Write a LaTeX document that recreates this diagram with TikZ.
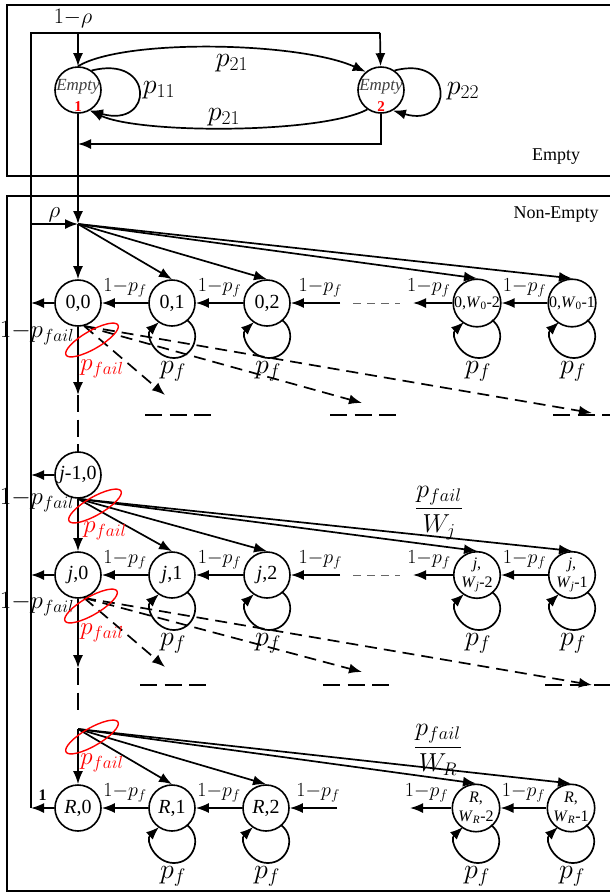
\RequirePackage{fix-cm}
\documentclass[tikz,border=0pt]{standalone}
\usepackage{amsmath}
\usepackage[no-math]{fontspec}
\setmainfont{Liberation Serif}
\usetikzlibrary{arrows.meta,shapes.geometric,calc}
\newcommand{\fsz}[1]{\fontsize{#1}{#1}\selectfont}
\newcommand{\sloop}[1]{\draw[arr] ($(#1)+(15,17)$) .. controls ($(#1)+(31,29)$) and ($(#1)+(22,55)$) .. ($(#1)+(2,55)$) .. controls ($(#1)+(-17,55)$) and ($(#1)+(-27,32)$) .. ($(#1)+(-13,19)$);}
\newcommand{\pflab}[1]{\node[lbig] (#1pf) at ($(#1)+(1,68)$) {$p_f$};}
\begin{document}
\begin{tikzpicture}[x=1pt,y=-1pt,
  st/.style={circle,draw,line width=1.6pt,minimum size=46pt,inner sep=0pt,font=\fsz{20}},
  sts/.style={st,font=\fsz{16}},
  stt/.style={st,align=center,font=\fontsize{16}{19}\selectfont},
  arrtip/.style={-{Latex[length=13pt,width=10pt]}},
  arr/.style={line width=1.7pt,arrtip},
  ln/.style={line width=1.7pt},
  dsh/.style={line width=1.7pt,dash pattern=on 12pt off 7pt,arrtip},
  ldsh/.style={line width=2pt,dash pattern=on 17pt off 7.5pt},
  gdsh/.style={line width=0.9pt,black!60,dash pattern=on 8pt off 6pt},
  lpf/.style={midway,yshift=15pt,font=\fsz{20}},
  lbig/.style={font=\fsz{28}},
  lpfail/.style={font=\fsz{25}},
  rell/.style={draw=red,line width=1.4pt,ellipse,minimum width=60pt,minimum height=18pt,inner sep=0pt,rotate=30},
  rlbl/.style={text=red,font=\fsz{25}},
  frac/.style={font=\fsz{26}},
  boxlbl/.style={font=\fsz{18}},
]
\useasboundingbox (0,0) rectangle (610,895);
% boxes
\draw[line width=1.4pt] (7,5) rectangle (613,176);
\draw[line width=1.4pt] (7,196) rectangle (613,891);
\node[boxlbl] (lab1) at (556,157) {Empty};
\node[boxlbl] (lab2) at (556,215) {Non-Empty};

% ---------- Empty states
\node[st] (e1) at (78,90) {};
\node[st] (e2) at (381,90) {};
\node[font=\itshape\fsz{17},text=black!75] (e1t) at (78,87) {Empty};
\node[font=\bfseries\fsz{15},text=red] (e1n) at (78,107) {1};
\node[font=\itshape\fsz{17},text=black!75] (e2t) at (381,87) {Empty};
\node[font=\bfseries\fsz{15},text=red] (e2n) at (381,107) {2};

\coordinate (TL) at (31,33);
\coordinate (TR) at (380,33);
\coordinate (T1) at (78,33);
\coordinate (BL) at (31,808);
\coordinate (V1) at (78,144);
\coordinate (J0) at (78,224);
\coordinate (L0) at (31,224);

\draw[ln] (BL) -- (TL) -- (TR);
\draw[arr] (TR) -- (e2);
\draw[arr] (T1) -- (e1);
\node[font=\fsz{22}] (rho1) at (73,19) {$1{-}\rho$};

\draw[arr] (e1.north) .. controls (125,38) and (300,42) .. (e2.130);
\node[lbig] (p21a) at (232,63) {$p_{21}$};
\draw[arr] (e2.-125) .. controls (320,134) and (140,134) .. (e1.-60);
\node[lbig] (p21b) at (224,117) {$p_{21}$};
\draw[arr] (e1.55) .. controls +(63,-16) and +(64.5,18) .. (e1.-60);
\node[lbig] (p11) at (159,90) {$p_{11}$};
\draw[arr] (e2.55) .. controls +(60,-16) and +(61,18) .. (e2.-60);
\node[lbig] (p22) at (463,91) {$p_{22}$};

\draw[arr] (e2.south) |- (V1);
\draw[arr] (e1) -- (J0);
\draw[arr] (L0) -- (J0) node[midway,yshift=9pt,font=\fsz{23}] {$\rho$};

% ---------- Row 0
\node[st] (a0) at (78,303) {0,0};
\node[st] (a1) at (172,303) {0,1};
\node[st] (a2) at (267,303) {0,2};
\node[sts] (a3) at (477,303) {0,\textit{W}\textsubscript{0}-2};
\node[sts] (a4) at (572,303) {0,\textit{W}\textsubscript{0}-1};
\coordinate (a2r) at (340,303);
\coordinate (g0a) at (353,303);
\coordinate (g0b) at (400,303);
\coordinate (a3l) at (413,303);
\coordinate (a0l) at (31,303);
\coordinate (a0d) at (78,395);
\coordinate (a0e) at (78,452);
\coordinate (a0x1) at (165,395);
\coordinate (a0x2) at (362,403);
\coordinate (a0x3) at (592,413);
\coordinate (h0a) at (145,415);
\coordinate (h0b) at (211,415);
\coordinate (h0c) at (330,415);
\coordinate (h0d) at (397,415);
\coordinate (h0e) at (553,415);
\coordinate (h0f) at (612,415);

\draw[arr] (J0) -- (a0);
\foreach \n in {a1,a2,a3,a4} \draw[arr] (J0) -- (\n.north);
\draw[arr] (a1) -- (a0) node[lpf] {$1{-}p_f$};
\draw[arr] (a2) -- (a1) node[lpf] {$1{-}p_f$};
\draw[arr] (a2r) -- (a2) node[lpf,pos=0.4] {$1{-}p_f$};
\draw[gdsh] (g0a) -- (g0b);
\draw[arr] (a3) -- (a3l) node[lpf,pos=0.6] {$1{-}p_f$};
\draw[arr] (a4) -- (a3) node[lpf] {$1{-}p_f$};
\draw[arr] (a0) -- (a0l);
\node[lpfail] (t0) at (37,333) {$1{-}p_{fail}$};
\foreach \n in {a1,a2,a3,a4} {\sloop{\n}\pflab{\n}}
\draw[arr] (a0) -- (a0d);
\draw[ldsh] (a0d) -- (a0e);
\draw[dsh] (a0.-75) -- (a0x1);
\draw[dsh] (a0.-75) -- (a0x2);
\draw[dsh] (a0.-75) -- (a0x3);
\draw[ldsh] (h0a) -- (h0b);
\draw[ldsh] (h0c) -- (h0d);
\draw[ldsh] (h0e) -- (h0f);
\node[rell] (r0) at (92,340) {};
\node[rlbl] (q0) at (102,369) {$p_{fail}$};

% ---------- Row j-1
\node[st] (b0) at (78,475) {\textit{j}-1,0};
\coordinate (b0l) at (31,475);
\draw[arr] (b0) -- (b0l);
\node[lpfail] (t1) at (37,500) {$1{-}p_{fail}$};

% ---------- Row j
\node[st] (c0) at (78,575) {\textit{j},0};
\node[st] (c1) at (172,575) {\textit{j},1};
\node[st] (c2) at (267,575) {\textit{j},2};
\node[stt] (c3) at (477,575) {\textit{j},\\\textit{W}\textsubscript{\textit{j}}-2};
\node[stt] (c4) at (572,575) {\textit{j},\\\textit{W}\textsubscript{\textit{j}}-1};
\draw[arr] (b0.south) -- (c0);
\foreach \n in {c1,c2,c3,c4} \draw[arr] (b0.south) -- (\n.north);
\node[rell] (r1) at (95,506) {};
\node[rlbl] (q1) at (105,531) {$p_{fail}$};
\node[frac] (fj) at (439,513) {$\displaystyle\frac{p_{fail}}{W_j}$};

\coordinate (c2r) at (340,575);
\coordinate (g1a) at (353,575);
\coordinate (g1b) at (400,575);
\coordinate (c3l) at (413,575);
\coordinate (c0l) at (31,575);
\coordinate (c0d) at (78,668);
\coordinate (c0e) at (78,711);
\coordinate (c0x1) at (165,667);
\coordinate (c0x2) at (362,672);
\coordinate (c0x3) at (592,685);
\coordinate (h1a) at (140,685);
\coordinate (h1b) at (207,685);
\coordinate (h1c) at (323,685);
\coordinate (h1d) at (390,685);
\coordinate (h1e) at (545,685);
\coordinate (h1f) at (612,685);
\draw[arr] (c1) -- (c0) node[lpf] {$1{-}p_f$};
\draw[arr] (c2) -- (c1) node[lpf] {$1{-}p_f$};
\draw[arr] (c2r) -- (c2) node[lpf,pos=0.4] {$1{-}p_f$};
\draw[gdsh] (g1a) -- (g1b);
\draw[arr] (c3) -- (c3l) node[lpf,pos=0.6] {$1{-}p_f$};
\draw[arr] (c4) -- (c3) node[lpf] {$1{-}p_f$};
\draw[arr] (c0) -- (c0l);
\node[lpfail] (t2) at (37,604) {$1{-}p_{fail}$};
\foreach \n in {c1,c2,c3,c4} {\sloop{\n}\pflab{\n}}
\draw[arr] (c0) -- (c0d);
\draw[ldsh] (c0d) -- (c0e);
\draw[dsh] (c0.-75) -- (c0x1);
\draw[dsh] (c0.-75) -- (c0x2);
\draw[dsh] (c0.-75) -- (c0x3);
\draw[ldsh] (h1a) -- (h1b);
\draw[ldsh] (h1c) -- (h1d);
\draw[ldsh] (h1e) -- (h1f);
\node[rell] (r2) at (91,606) {};
\node[rlbl] (q2) at (102,633) {$p_{fail}$};

% ---------- Row R
\coordinate (J2) at (78,729);
\node[st] (d0) at (78,808) {\textit{R},0};
\node[st] (d1) at (172,808) {\textit{R},1};
\node[st] (d2) at (266,808) {\textit{R},2};
\node[stt] (d3) at (476,808) {\textit{R},\\\textit{W}\textsubscript{\textit{R}}-2};
\node[stt] (d4) at (571,808) {\textit{R},\\\textit{W}\textsubscript{\textit{R}}-1};
\draw[arr] (J2) -- (d0);
\foreach \n in {d1,d2,d3,d4} \draw[arr] (J2) -- (\n.north);
\node[rell] (r3) at (92,737) {};
\node[rlbl] (q3) at (102,763) {$p_{fail}$};
\node[frac] (fR) at (438,750) {$\displaystyle\frac{p_{fail}}{W_R}$};
\coordinate (d2r) at (337,808);
\coordinate (d3l) at (410,808);
\draw[arr] (d1) -- (d0) node[lpf] {$1{-}p_f$};
\draw[arr] (d2) -- (d1) node[lpf] {$1{-}p_f$};
\draw[arr] (d2r) -- (d2) node[lpf,pos=0.4] {$1{-}p_f$};
\draw[arr] (d3) -- (d3l) node[lpf,pos=0.6] {$1{-}p_f$};
\draw[arr] (d4) -- (d3) node[lpf] {$1{-}p_f$};
\draw[arr] (d0) -- (BL) node[midway,yshift=13pt,font=\bfseries\fsz{16}] {1};
\foreach \n in {d1,d2,d3,d4} {\sloop{\n}\pflab{\n}}
\end{tikzpicture}
\end{document}
